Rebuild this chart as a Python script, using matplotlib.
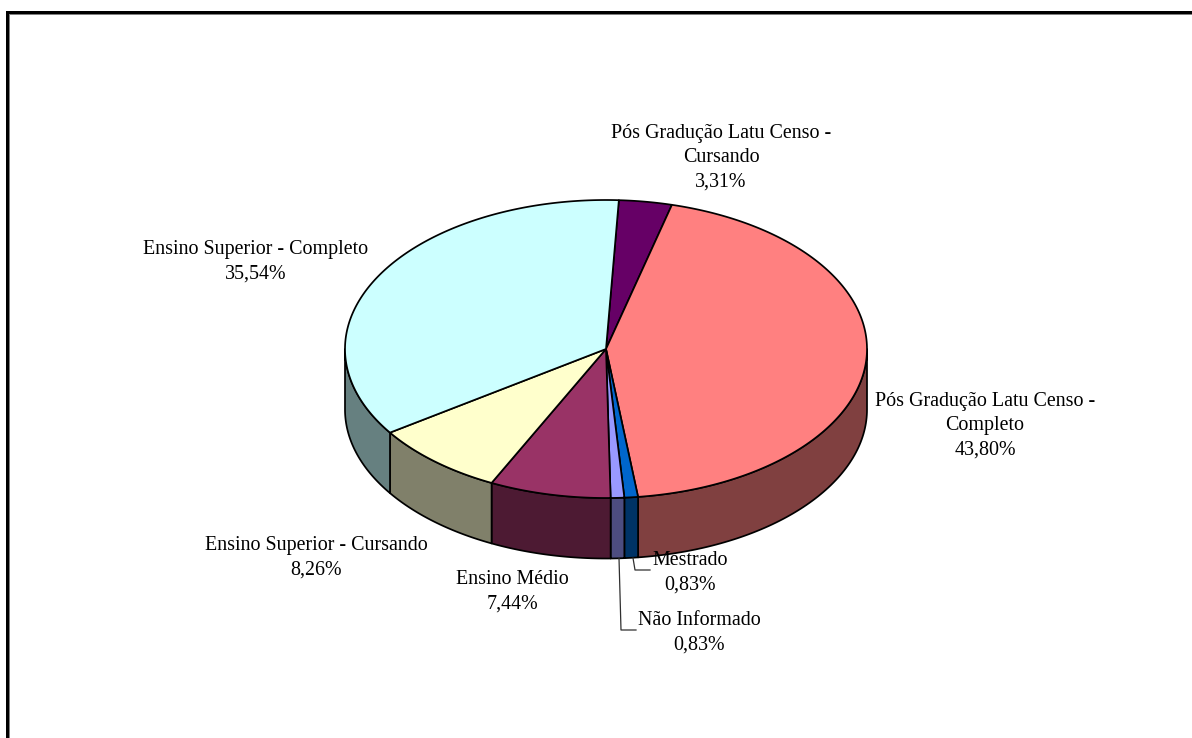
import numpy as np
import matplotlib
matplotlib.use("Agg")
import matplotlib.pyplot as plt
from matplotlib.patches import Rectangle

plt.rcParams['font.family'] = ['Liberation Serif', 'DejaVu Serif']

categories = ["Pós Gradução Latu Censo -\nCursando", "Pós Gradução Latu Censo -\nCompleto", "Mestrado",
              "Não Informado", "Ensino Médio", "Ensino Superior - Cursando", "Ensino Superior - Completo"]
values = [3.31, 43.80, 0.83, 0.83, 7.44, 8.26, 35.54]
value_labels = ["3,31%", "43,80%", "0,83%", "0,83%", "7,44%", "8,26%", "35,54%"]
top_colors = ["#660066", "#FF8080", "#0066CC", "#9999FF", "#993366", "#FFFFCC", "#CCFFFF"]
side_colors = ["#330033", "#804040", "#003366", "#4D4D80", "#4D1A33", "#80806A", "#668080"]

W, H = 1192, 738
CX, CY, RX, RY, DEPTH = 606, 349, 261, 149, 60.5
START = 2.5   # degrees clockwise from 12 o'clock
WARP = 1.3    # perspective: one side of the disc is stretched a little
FS = 14.37
LW = 1.25

fig = plt.figure(figsize=(W / 100, H / 100), dpi=100, facecolor="white")
ax = fig.add_axes([0, 0, 1, 1])

def dx(px): return (px - CX) / RX
def dy(py): return (CY - py) / RY

def persp(deg):
    return deg + START + WARP * (1 - np.cos(np.radians(deg - 60))) / 2

d = DEPTH / RY
fractions = np.array(values) / sum(values)
cum = np.r_[0, np.cumsum(fractions)] * 360

# side walls (only the near half of the disc shows one)
for a, b, c in zip(persp(cum[:-1]), persp(cum[1:]), side_colors):
    lo, hi = max(a, 90), min(b, 270)
    if lo >= hi:
        continue
    t = np.radians(np.linspace(lo, hi, 80))
    xs, ys = np.sin(t), np.cos(t)
    ax.fill(np.r_[xs, xs[::-1]], np.r_[ys, ys[::-1] - d], facecolor=c,
            edgecolor="black", linewidth=LW, joinstyle="round", zorder=1)

# top face
for a, b, c in zip(cum[:-1], cum[1:], top_colors):
    t = np.radians(persp(np.linspace(a, b, 200)))
    ax.fill(np.r_[0, np.sin(t)], np.r_[0, np.cos(t)], facecolor=c,
            edgecolor="black", linewidth=LW, joinstyle="round", zorder=2)

ax.set_aspect("auto")
ax.set_xlim(dx(0), dx(W))
ax.set_ylim(dy(H), dy(0))
ax.axis("off")

label_pos = [(721, 157.5), (985, 425.5), (690, 572.5), (699, 632.5), (512, 592), (316, 557.5), (256, 261.5)]
for cat, val, (px, py) in zip(categories, value_labels, label_pos):
    ax.text(dx(px), dy(py), f"{cat}\n{val}", ha="center", va="center", multialignment="center",
            fontsize=FS, color="black", linespacing=1.38, zorder=5)

for pts in ([(633, 558), (635, 570), (650, 570)], [(619, 558), (621, 630), (636, 630)]):
    ax.plot([dx(p[0]) for p in pts], [dy(p[1]) for p in pts], color="#303030", lw=0.9, zorder=4)

def rect(x0, y0, x1, y1, color):
    fig.add_artist(Rectangle((x0 / W, 1 - y1 / H), (x1 - x0) / W, (y1 - y0) / H, transform=fig.transFigure,
                             facecolor=color, edgecolor="none"))
rect(9, 14, W, 15, "#808080")
rect(9, 14, 10, H, "#808080")
rect(6, 11, W, 14, "black")
rect(6, 11, 9, H, "black")

fig.savefig("out.png", dpi=100)
